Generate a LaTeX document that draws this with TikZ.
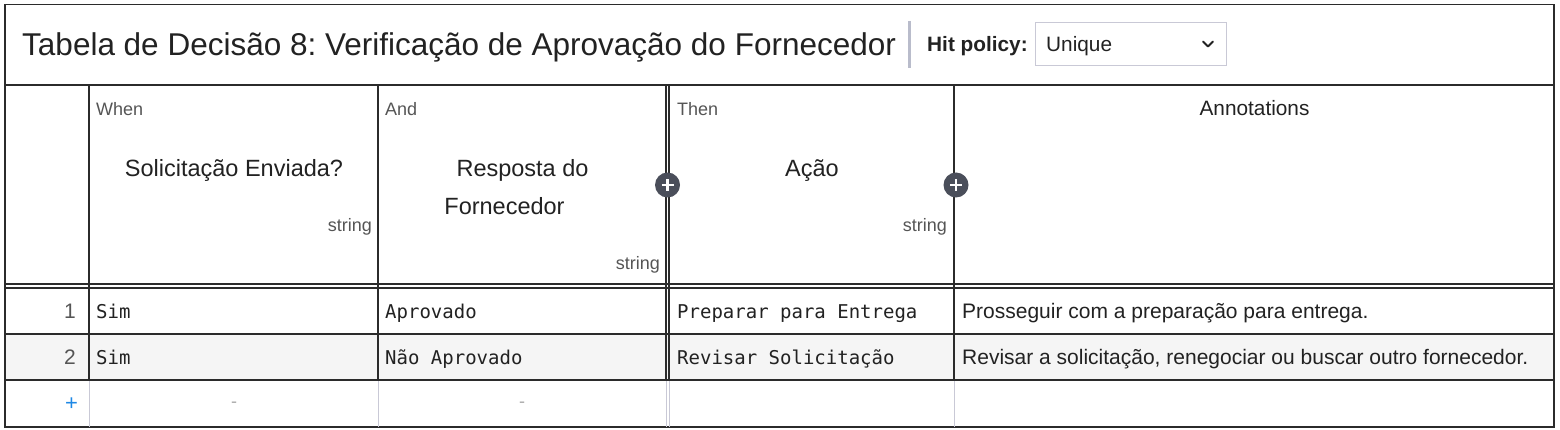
\documentclass[tikz,border=0pt]{standalone}
\usepackage{fontspec}
\setmainfont{Liberation Sans}
\newfontfamily\monofont{DejaVu Sans Mono}
\frenchspacing
\definecolor{txt}{HTML}{222222}
\definecolor{lbl}{HTML}{555555}
\definecolor{bord}{HTML}{2B2B2B}
\definecolor{light}{HTML}{C9C9D6}
\definecolor{sep}{HTML}{B9BCCB}
\definecolor{rowbg}{HTML}{F5F5F5}
\definecolor{plusbg}{HTML}{4A4E5A}
\definecolor{addblue}{HTML}{1E88E5}
\tikzset{
  T/.style={inner sep=0pt, text=txt},
  title/.style={T, anchor=base west, font=\fontsize{31.5}{36}\selectfont},
  kw/.style={inner sep=0pt, text=lbl, anchor=base west, font=\fontsize{18}{22}\selectfont},
  typ/.style={inner sep=0pt, text=lbl, anchor=base east, font=\fontsize{18}{22}\selectfont},
  head/.style={T, anchor=base, font=\fontsize{23.5}{28}\selectfont},
  cell/.style={T, anchor=base west, font=\monofont\fontsize{19}{23}\selectfont},
  ann/.style={T, anchor=base west, font=\fontsize{21}{25}\selectfont},
  num/.style={inner sep=0pt, text=lbl, anchor=base east, font=\fontsize{21}{25}\selectfont},
  grid/.style={draw=bord, line width=1.2pt},
  lgrid/.style={draw=light, line width=1pt},
  addbtn/.style={circle, fill=plusbg, minimum size=25pt, inner sep=0pt},
}
\begin{document}
\begin{tikzpicture}[x=1pt,y=-1pt]
\useasboundingbox (0,0) rectangle (1560,430);
\fill[white] (0,0) rectangle (1560,430);
% row 2 background
\fill[rowbg] (5,334) rectangle (1554,380);
% outer frame and title band
\draw[grid] (5,4.5) rectangle (1554,427);
\draw[grid] (5,85) -- (1554,85);
% title
\node[title] (ttl) at (22,56) {Tabela de Decisão 8: Verificação de Aprovação do Fornecedor};
\draw[draw=sep, line width=3pt] (909,21) -- (909,68);
\node[T, anchor=base west, font=\bfseries\fontsize{20.8}{25}\selectfont] (hp) at (927,52) {Hit policy:};
\node[draw=light, line width=1pt, minimum width=191pt, minimum height=43pt, inner sep=0pt] (dd) at (1130.5,44.5) {};
\node[T, anchor=base west, font=\fontsize{20.8}{25}\selectfont] (hpv) at (1046,52) {Unique};
\draw[txt, line width=2pt, line cap=round, line join=round] (1203,41.5) -- (1208,46.5) -- (1213,41.5);
% vertical grid lines (rule rows)
\draw[grid] (89,85) -- (89,380);
\draw[grid] (378,85) -- (378,380);
\draw[grid] (666,85) -- (666,380);
\draw[grid] (669,85) -- (669,380);
\draw[grid] (954,85) -- (954,380);
% light lines in last row
\draw[lgrid] (89,380) -- (89,427);
\draw[lgrid] (378,380) -- (378,427);
\draw[lgrid] (666,380) -- (666,427);
\draw[lgrid] (669,380) -- (669,427);
\draw[lgrid] (954,380) -- (954,427);
% horizontal lines
\draw[grid] (5,284) -- (1554,284);
\draw[grid] (5,288) -- (1554,288);
\draw[grid] (5,334) -- (1554,334);
\draw[grid] (5,380) -- (1554,380);
% header
\node[kw] (w) at (96,115.5) {When};
\node[head] (h1) at (234,176.5) {Solicitação Enviada?};
\node[typ] (t1) at (372,231.5) {string};
\node[kw] (a) at (385,115.5) {And};
\node[head] (h2a) at (522.5,176.5) {Resposta do};
\node[head] (h2b) at (504.5,214.5) {Fornecedor};
\node[typ] (t2) at (660,269.5) {string};
\node[kw] (th) at (677,115.5) {Then};
\node[head] (h3) at (812,176.5) {Ação};
\node[typ] (t3) at (947,231.5) {string};
\node[T, anchor=base, font=\fontsize{20.8}{25}\selectfont] (an) at (1254.5,116) {Annotations};
% add buttons
\node[addbtn] (p1) at (667.5,185) {};
\node[addbtn] (p2) at (956,185) {};
\draw[white, line width=2.4pt] ([xshift=-6pt]p1.center) -- ([xshift=6pt]p1.center);
\draw[white, line width=2.4pt] ([yshift=-6pt]p1.center) -- ([yshift=6pt]p1.center);
\draw[white, line width=2.4pt] ([xshift=-6pt]p2.center) -- ([xshift=6pt]p2.center);
\draw[white, line width=2.4pt] ([yshift=-6pt]p2.center) -- ([yshift=6pt]p2.center);
% row 1
\node[num] (n1) at (76,318.5) {1};
\node[cell] (c11) at (96,318) {Sim};
\node[cell] (c12) at (385,318) {Aprovado};
\node[cell] (c13) at (677,318) {Preparar para Entrega};
\node[ann] (c14) at (962,318.5) {Prosseguir com a preparação para entrega.};
% row 2
\node[num] (n2) at (76,364.5) {2};
\node[cell] (c21) at (96,364) {Sim};
\node[cell] (c22) at (385,364) {Não Aprovado};
\node[cell] (c23) at (677,364) {Revisar Solicitação};
\node[ann] (c24) at (962,364.5) {Revisar a solicitação, renegociar ou buscar outro fornecedor.};
% add row
\node[inner sep=0pt, text=addblue, font=\fontsize{22}{26}\selectfont] (add) at (71.5,404) {+};
\node[inner sep=0pt, text=lbl!50, font=\fontsize{18}{22}\selectfont] (d1) at (234,405) {-};
\node[inner sep=0pt, text=lbl!50, font=\fontsize{18}{22}\selectfont] (d2) at (522,405) {-};
\end{tikzpicture}
\end{document}
